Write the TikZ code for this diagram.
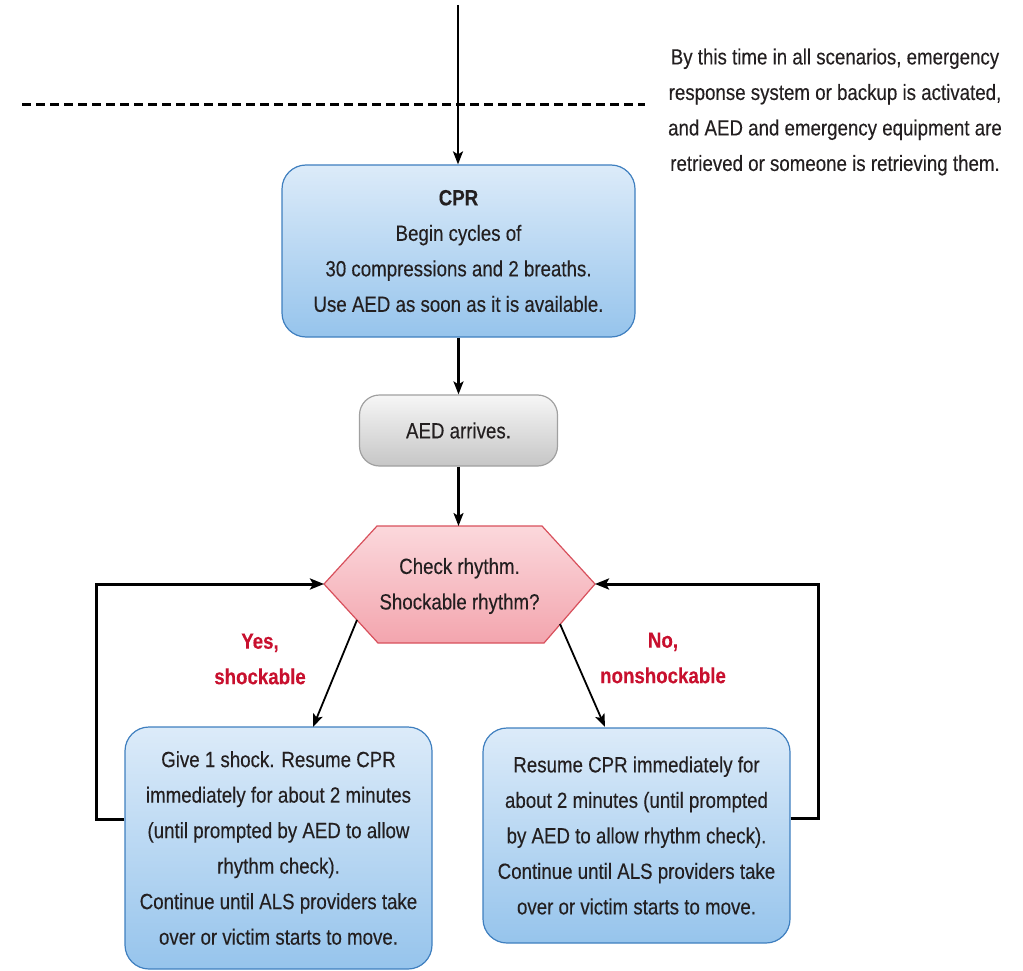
\documentclass[tikz,border=0pt]{standalone}
\usepackage{fontspec}
\setmainfont{Liberation Sans}[FakeStretch=0.85,FakeBold=0.25]
\usetikzlibrary{arrows.meta}
\definecolor{txt}{HTML}{231F20}
\definecolor{bluetop}{HTML}{DCEBF9}
\definecolor{bluebot}{HTML}{96C4EC}
\definecolor{blueedge}{HTML}{3F7FBF}
\definecolor{graytop}{HTML}{F6F6F6}
\definecolor{graybot}{HTML}{C6C6C6}
\definecolor{grayedge}{HTML}{A0A0A0}
\definecolor{pinktop}{HTML}{FBD8DC}
\definecolor{pinkbot}{HTML}{F3A5AE}
\definecolor{pinkedge}{HTML}{D8505C}
\definecolor{labred}{HTML}{C8102E}
\begin{document}
\begin{tikzpicture}[x=1pt,y=-1pt,
  every node/.style={font=\fontsize{22}{35.5}\selectfont, text=txt, align=center},
  bluebox/.style={draw=blueedge, line width=1.2pt, rounded corners=24pt, top color=bluetop, bottom color=bluebot, inner sep=0pt},
  graybox/.style={draw=grayedge, line width=1.2pt, rounded corners=20pt, top color=graytop, bottom color=graybot, inner sep=0pt},
  arr/.style={line width=2.2pt, -{Stealth[length=13pt,width=10pt,inset=3pt]}},
  loop/.style={line width=3pt, -{Stealth[length=14pt,width=11pt,inset=3pt]}},
  lab/.style={text=labred, font=\fontsize{22}{35.5}\selectfont\bfseries}]
\useasboundingbox (0,0) rectangle (1023,971);

% dashed line and top line
\coordinate (dl) at (22,105);
\coordinate (dr) at (645,105);
\draw[line width=3pt, dash pattern=on 9pt off 5pt] (dl) -- (dr);
\coordinate (top) at (458,5);

\node (note) at (835,112) {By this time in all scenarios, emergency\\response system or backup is activated,\\and AED and emergency equipment are\\retrieved or someone is retrieving them.};

% CPR box
\node[bluebox, minimum width=353pt, minimum height=172pt] (cpr) at (458.5,251)
  {\textbf{CPR}\\Begin cycles of\\30 compressions and 2 breaths.\\Use AED as soon as it is available.};

% AED box
\node[graybox, minimum width=198pt, minimum height=71pt] (aed) at (458.5,430.5) {AED arrives.};

% hexagon
\coordinate (hl) at (324,584);
\coordinate (htl) at (377,526);
\coordinate (htr) at (542,526);
\coordinate (hr) at (595,584);
\coordinate (hbr) at (544,643);
\coordinate (hbl) at (378,643);
\coordinate (ht) at (458.5,526);
\shade[draw=pinkedge, line width=1.2pt, top color=pinktop, bottom color=pinkbot]
  (hl) -- (htl) -- (htr) -- (hr) -- (hbr) -- (hbl) -- cycle;
\node (hex) at (459.5,586) {Check rhythm.\\Shockable rhythm?};

% bottom boxes
\node[bluebox, minimum width=307pt, minimum height=242pt] (lbox) at (278.5,848)
  {Give 1 shock. Resume CPR\\immediately for about 2 minutes\\(until prompted by AED to allow\\rhythm check).\\Continue until ALS providers take\\over or victim starts to move.};
\node[bluebox, minimum width=307pt, minimum height=215pt] (rbox) at (636.5,835.5)
  {Resume CPR immediately for\\about 2 minutes (until prompted\\by AED to allow rhythm check).\\Continue until ALS providers take\\over or victim starts to move.};

% labels
\node[lab] (yes) at (260,659) {Yes,\\shockable};
\node[lab] (no) at (663,658) {No,\\nonshockable};

% connectors
\draw[arr] (top) -- (top |- cpr.north);
\draw[arr] (cpr.south) -- (aed.north);
\draw[arr] (aed.south) -- (ht);

\coordinate (d1) at (357,620);
\coordinate (d1e) at (313,727);
\coordinate (d2) at (560,624);
\coordinate (d2e) at (605,727);
\draw[arr, line width=1.8pt] (d1) -- (d1e);
\draw[arr, line width=1.8pt] (d2) -- (d2e);

\coordinate (lc1) at (96,819);
\coordinate (lc2) at (96,584);
\draw[loop] (lbox.west |- lc1) -- (lc1) -- (lc2) -- (hl);
\coordinate (rc1) at (818,818);
\coordinate (rc2) at (818,584);
\draw[loop] (rbox.east |- rc1) -- (rc1) -- (rc2) -- (hr);
\end{tikzpicture}
\end{document}
